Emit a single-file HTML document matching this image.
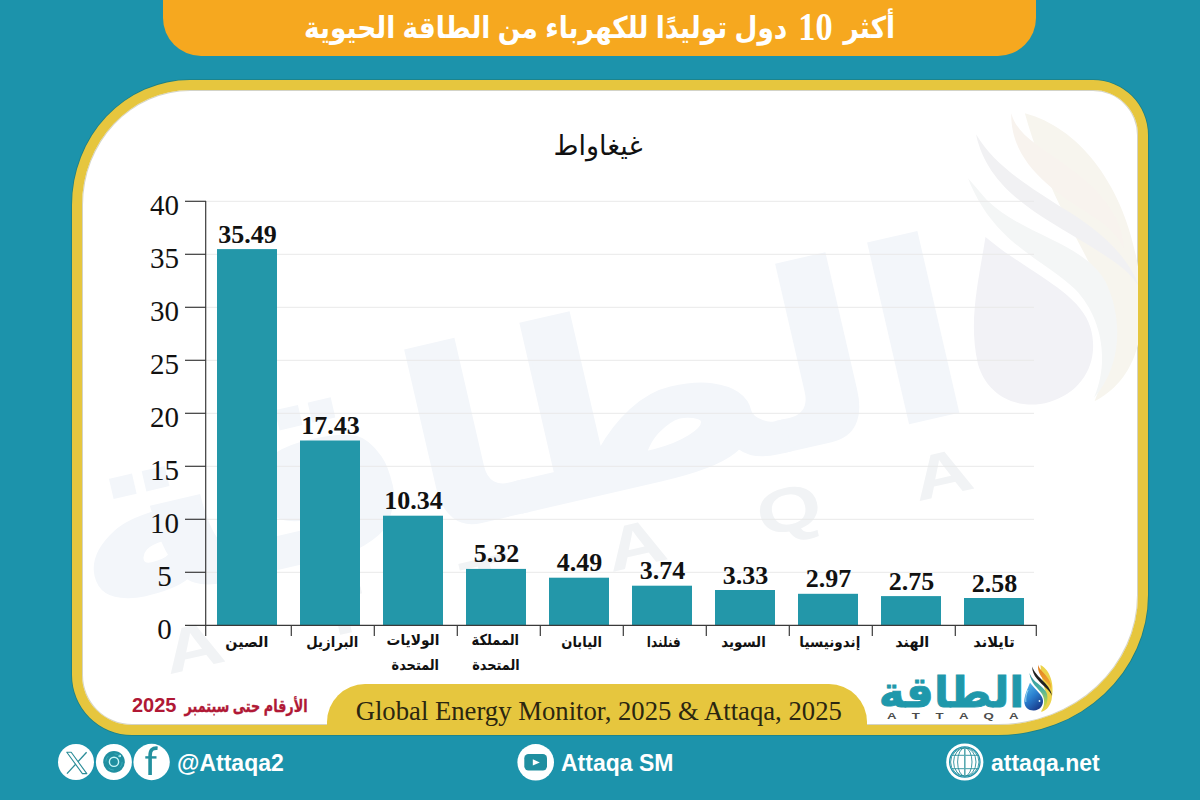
<!DOCTYPE html>
<html lang="ar">
<head>
<meta charset="utf-8">
<style>
html,body{margin:0;padding:0;}
body{width:1200px;height:800px;overflow:hidden;background:#1c93ab;position:relative;font-family:"Liberation Sans","DejaVu Sans",sans-serif;}
.abs{position:absolute;}
#title{left:163px;top:0;width:873px;height:56px;background:#f6a81f;border-radius:0 0 38px 38px;}
#title span{position:absolute;left:0;width:873px;top:2px;text-align:center;color:#fff;font:bold 30px "Liberation Sans","DejaVu Sans",sans-serif;direction:rtl;white-space:nowrap;transform:scaleX(0.88);}
#title b{font-family:"Liberation Serif",serif;font-size:39px;position:relative;top:2px;padding:0 4px;}
#frame{left:71.5px;top:79.5px;width:1056.5px;height:635.5px;border:10px solid #e6c63e;background:#fff;border-radius:118px 55px 150px 60px / 125px 55px 140px 60px;overflow:hidden;box-shadow:inset 0 0 0 1px rgba(110,110,70,0.3), 0 0 0 0.8px rgba(30,115,105,0.6);}
#wm{left:-81.5px;top:-89.5px;}
#src{left:327px;top:684px;width:540px;height:45px;background:#e6c63e;border-radius:38px 38px 0 0;}
#src span{position:absolute;left:3.5px;right:0;top:12.3px;text-align:center;font:26.7px "Liberation Serif",serif;color:#2b2610;white-space:nowrap;}
#note{left:108px;top:692px;width:200px;height:26px;color:#b01835;direction:rtl;white-space:nowrap;}
#note .ar{position:absolute;right:0;top:4px;-webkit-text-stroke:0.35px #b01835;font:bold 17px "Liberation Sans","DejaVu Sans",sans-serif;transform:scaleX(0.752);transform-origin:100% 50%;}
#note .num{position:absolute;left:24px;top:1.5px;font:bold 20px "Liberation Sans",sans-serif;}
.ftxt{color:#fff;font:bold 23px "Liberation Sans","DejaVu Sans",sans-serif;white-space:nowrap;}
</style>
</head>
<body>
<div id="title" class="abs"><span>أكثر <b>10</b> دول توليدًا للكهرباء من الطاقة الحيوية</span></div>
<div id="frame" class="abs">
  <svg id="wm" class="abs" width="1200" height="800" viewBox="0 0 1200 800">
    <g transform="translate(943,473) rotate(-13) scale(6.3) translate(-1013.9,-715.5)">
    <g transform="translate(-2.3,-0.5) translate(0,707) scale(1,0.9) translate(0,-707) translate(1021,674) scale(1.093,1.065) translate(-1018,-669)">
      <text x="1021" y="700" direction="rtl" font-family="DejaVu Sans, sans-serif" font-weight="bold" font-size="40" fill="#f3f6fa" stroke="#f3f6fa" stroke-width="0.5">الطاقة</text>
    </g>
    <text transform="scale(1.35,1)" y="719" font-family="Liberation Sans, sans-serif" font-weight="bold" font-size="9.8" fill="#f1f3f5" x="657 675.4 693 710.4 728.6 747.4">ATTAQA</text>
    <g transform="translate(-1.1,-2.2)">
    <path d="M1040.5,665 C1050,670 1055,684 1051.5,700 C1049.5,708 1045,711 1041,712 C1046,705 1047,697 1045,690 C1043.5,684 1041,676 1040.5,665 Z" fill="#f7f5ee"/>
    <path d="M1029.4,673 C1031,684 1038,688 1042,694 C1045,699 1045,706 1041,711.5 C1046,708 1048.5,701 1047,694 C1045,687 1036,684 1031.5,677 Z" fill="#f4f6f6"/>
    <path d="M1032.2,666.5 C1032,676 1040,682 1046,688 C1049,691 1051,693 1052,696 C1051.5,691 1048,686 1044,682 C1038,676 1034,672 1032.2,666.5 Z" fill="#f1f1f3"/>
    <path d="M1038.4,664.5 C1036.5,672 1042,678 1047,683 C1049,685 1050.5,687 1051,689.5 C1052,684 1049,679 1045,674.5 C1041.5,670.5 1038.5,668 1038.4,664.5 Z" fill="#f8f3ee"/>
    <path d="M1030,682.7 C1027.5,689 1024.3,695 1024.3,702 C1024.5,707.3 1028.8,710.8 1034,710.5 C1039.5,710.2 1043.3,706 1043,700.5 C1042.6,694.5 1035.5,690 1030,682.7 Z" fill="#f2f2f6"/>
    </g>
    </g>
  </svg>
</div>

<svg class="abs" style="left:0;top:0" width="1200" height="800" viewBox="0 0 1200 800">
  <text x="598" y="155" text-anchor="middle" font-family="Liberation Sans, DejaVu Sans, sans-serif" font-size="27" fill="#111" direction="rtl">غيغاواط</text>
  <g stroke="#e9e9e9" stroke-width="1">
    <line x1="206" y1="572.3" x2="1034" y2="572.3"/>
    <line x1="206" y1="519.3" x2="1034" y2="519.3"/>
    <line x1="206" y1="466.3" x2="1034" y2="466.3"/>
    <line x1="206" y1="413.3" x2="1034" y2="413.3"/>
    <line x1="206" y1="360.3" x2="1034" y2="360.3"/>
    <line x1="206" y1="307.3" x2="1034" y2="307.3"/>
    <line x1="206" y1="254.3" x2="1034" y2="254.3"/>
    <line x1="206" y1="201.3" x2="1034" y2="201.3"/>
  </g>
  <g fill="#2397a9">
    <rect x="217" y="249.1" width="60" height="376.2"/>
    <rect x="300" y="440.5" width="60" height="184.8"/>
    <rect x="383" y="515.7" width="60" height="109.6"/>
    <rect x="466" y="568.9" width="60" height="56.4"/>
    <rect x="549" y="577.7" width="60" height="47.6"/>
    <rect x="632" y="585.7" width="60" height="39.6"/>
    <rect x="715" y="590.0" width="60" height="35.3"/>
    <rect x="798" y="593.8" width="60" height="31.5"/>
    <rect x="881" y="596.1" width="60" height="29.1"/>
    <rect x="964" y="598.0" width="60" height="27.3"/>
  </g>
  <g stroke="#3a3a3a" stroke-width="1.2">
    <line x1="205.7" y1="201" x2="205.7" y2="636"/>
    <line x1="185" y1="625.3" x2="1036.5" y2="625.3"/>
    <line x1="185" y1="572.3" x2="206" y2="572.3"/>
    <line x1="185" y1="519.3" x2="206" y2="519.3"/>
    <line x1="185" y1="466.3" x2="206" y2="466.3"/>
    <line x1="185" y1="413.3" x2="206" y2="413.3"/>
    <line x1="185" y1="360.3" x2="206" y2="360.3"/>
    <line x1="185" y1="307.3" x2="206" y2="307.3"/>
    <line x1="185" y1="254.3" x2="206" y2="254.3"/>
    <line x1="185" y1="201.3" x2="206" y2="201.3"/>
    <line x1="291.3" y1="625" x2="291.3" y2="636"/>
    <line x1="374.3" y1="625" x2="374.3" y2="636"/>
    <line x1="457.3" y1="625" x2="457.3" y2="636"/>
    <line x1="540.3" y1="625" x2="540.3" y2="636"/>
    <line x1="623.3" y1="625" x2="623.3" y2="636"/>
    <line x1="706.3" y1="625" x2="706.3" y2="636"/>
    <line x1="789.3" y1="625" x2="789.3" y2="636"/>
    <line x1="872.3" y1="625" x2="872.3" y2="636"/>
    <line x1="955.3" y1="625" x2="955.3" y2="636"/>
    <line x1="1036.3" y1="625" x2="1036.3" y2="636"/>
  </g>
  <g font-family="Liberation Serif, serif" font-size="29" fill="#111" text-anchor="middle">
    <text x="164.5" y="639.0">0</text>
    <text x="164.5" y="586.0">5</text>
    <text x="164.5" y="533.0">10</text>
    <text x="164.5" y="480.0">15</text>
    <text x="164.5" y="427.0">20</text>
    <text x="164.5" y="374.0">25</text>
    <text x="164.5" y="321.0">30</text>
    <text x="164.5" y="268.0">35</text>
    <text x="164.5" y="215.0">40</text>
  </g>
  <g font-family="Liberation Serif, serif" font-weight="bold" font-size="26" fill="#111" text-anchor="middle">
    <text x="247.5" y="242.6">35.49</text>
    <text x="330.5" y="434.0">17.43</text>
    <text x="413.5" y="509.2">10.34</text>
    <text x="496.5" y="562.4">5.32</text>
    <text x="579.5" y="571.2">4.49</text>
    <text x="662.5" y="579.2">3.74</text>
    <text x="745.5" y="583.5">3.33</text>
    <text x="828.5" y="587.3">2.97</text>
    <text x="911.5" y="589.6">2.75</text>
    <text x="994.5" y="591.5">2.58</text>
  </g>
  <g font-family="Liberation Sans, DejaVu Sans, sans-serif" font-weight="bold" font-size="15" fill="#111" text-anchor="middle" direction="rtl">
    <text x="246.8" y="647" textLength="43.0" lengthAdjust="spacingAndGlyphs">الصين</text>
    <text x="332.3" y="647" textLength="52.0" lengthAdjust="spacingAndGlyphs">البرازيل</text>
    <text x="413" y="645" textLength="52.8" lengthAdjust="spacingAndGlyphs">الولايات</text>
    <text x="415.3" y="669.5" textLength="47.5" lengthAdjust="spacingAndGlyphs">المتحدة</text>
    <text x="495.3" y="645" textLength="47.5" lengthAdjust="spacingAndGlyphs">المملكة</text>
    <text x="496" y="669.5" textLength="47.5" lengthAdjust="spacingAndGlyphs">المتحدة</text>
    <text x="581.6" y="647" textLength="40.7" lengthAdjust="spacingAndGlyphs">اليابان</text>
    <text x="663.8" y="647" textLength="34.0" lengthAdjust="spacingAndGlyphs">فنلندا</text>
    <text x="743.5" y="647" textLength="44.5" lengthAdjust="spacingAndGlyphs">السويد</text>
    <text x="829.8" y="647" textLength="61.0" lengthAdjust="spacingAndGlyphs">إندونيسيا</text>
    <text x="912.3" y="647" textLength="34.0" lengthAdjust="spacingAndGlyphs">الهند</text>
    <text x="994" y="647" textLength="41.5" lengthAdjust="spacingAndGlyphs">تايلاند</text>
  </g>
</svg>

<div id="src" class="abs"><span>Global Energy Monitor, 2025 &amp; Attaqa, 2025</span></div>
<div id="note" class="abs"><span class="ar">الأرقام حتى سبتمبر</span> <span class="num">2025</span></div>

<!-- logo -->
<svg class="abs" style="left:0;top:0" width="1200" height="800" viewBox="0 0 1200 800">
  <defs>
    <linearGradient id="gdrop" x1="0" y1="0" x2="0.6" y2="1">
      <stop offset="0" stop-color="#5cc3ef"/>
      <stop offset="0.55" stop-color="#2a7fcf"/>
      <stop offset="1" stop-color="#1a3f8f"/>
    </linearGradient>
    <linearGradient id="ggreen" x1="0" y1="0" x2="0" y2="1">
      <stop offset="0" stop-color="#2a93a3"/>
      <stop offset="0.45" stop-color="#4fb3a0"/>
      <stop offset="0.75" stop-color="#b5d24a"/>
      <stop offset="1" stop-color="#e8d84c"/>
    </linearGradient>
    <linearGradient id="gorange" x1="0" y1="0" x2="0" y2="1">
      <stop offset="0" stop-color="#e07a1f"/>
      <stop offset="1" stop-color="#f2b233"/>
    </linearGradient>
  </defs>
    <g transform="translate(1021,674) scale(1.093,1.065) translate(-1018,-669)">
      <text x="1021" y="700" direction="rtl" font-family="DejaVu Sans, sans-serif" font-weight="bold" font-size="40" fill="#1f98ab" stroke="#1f98ab" stroke-width="0.8">الطاقة</text>
    </g>
    <text transform="scale(1.35,1)" y="719" font-family="Liberation Sans, sans-serif" font-weight="bold" font-size="9.8" fill="#4d4d4d" x="657 675.4 693 710.4 728.6 747.4">ATTAQA</text>
    <path d="M1040.5,665 C1050,670 1055,684 1051.5,700 C1049.5,708 1045,711 1041,712 C1046,705 1047,697 1045,690 C1043.5,684 1041,676 1040.5,665 Z" fill="#ecd34a"/>
    <path d="M1029.4,673 C1031,684 1038,688 1042,694 C1045,699 1045,706 1041,711.5 C1046,708 1048.5,701 1047,694 C1045,687 1036,684 1031.5,677 Z" fill="url(#ggreen)"/>
    <path d="M1032.2,666.5 C1032,676 1040,682 1046,688 C1049,691 1051,693 1052,696 C1051.5,691 1048,686 1044,682 C1038,676 1034,672 1032.2,666.5 Z" fill="#222"/>
    <path d="M1038.4,664.5 C1036.5,672 1042,678 1047,683 C1049,685 1050.5,687 1051,689.5 C1052,684 1049,679 1045,674.5 C1041.5,670.5 1038.5,668 1038.4,664.5 Z" fill="url(#gorange)"/>
    <path d="M1030,682.7 C1027.5,689 1024.3,695 1024.3,702 C1024.5,707.3 1028.8,710.8 1034,710.5 C1039.5,710.2 1043.3,706 1043,700.5 C1042.6,694.5 1035.5,690 1030,682.7 Z" fill="url(#gdrop)"/>
    <path d="M1028,690 C1026.2,694 1025.4,698 1025.8,702" fill="none" stroke="#a9e3f7" stroke-width="0.8"/>
    <circle cx="1039.5" cy="701" r="0.9" fill="#dff4ff"/>
</svg>

<!-- footer -->
<svg class="abs" style="left:0;top:0" width="1200" height="800" viewBox="0 0 1200 800">
  <g fill="#fff">
    <circle cx="76" cy="762" r="18"/>
    <circle cx="113.9" cy="762" r="18"/>
    <circle cx="151.6" cy="762" r="18.2"/>
    <circle cx="535.7" cy="762.3" r="18.3"/>
  </g>
  <line x1="86.6" y1="752.3" x2="67" y2="773.6" stroke="#2a8c98" stroke-width="1.3"/>
  <path d="M66.8,752.3 L71.2,752.3 L86.8,773.6 L82.4,773.6 Z" fill="#fff" stroke="#2a8c98" stroke-width="1.1" stroke-linejoin="round"/>
  <circle cx="114" cy="761.9" r="10.8" fill="#1f8fa0"/>
  <circle cx="114" cy="761.8" r="4.6" fill="none" stroke="#c8f6f8" stroke-width="1.4"/>
  <circle cx="119.7" cy="756" r="1.3" fill="#c8f6f8"/>
  <circle cx="114" cy="761.9" r="8.2" fill="none" stroke="#3eb0bf" stroke-width="0.8" stroke-dasharray="6 7"/>
  <path d="M150.1,775 V755.5 C150.1,749.8 152.6,747.7 157.6,748.2" fill="none" stroke="#23909e" stroke-width="3.6"/>
  <rect x="145.3" y="756.2" width="11.2" height="2.4" fill="#23909e"/>
  <rect x="524.3" y="754" width="22.7" height="16.5" rx="4.2" fill="#1f8fa0"/>
  <path d="M532.8,759.2 L532.8,765.6 L539.8,762.4 Z" fill="#fff"/>
  <circle cx="964.8" cy="762" r="17.2" fill="none" stroke="#fff" stroke-width="2.8"/>
  <circle cx="964.8" cy="762" r="14.6" fill="#fff"/>
  <g fill="none" stroke="#2a8f9c" stroke-width="0.9">
    <circle cx="964.8" cy="762" r="14.2"/>
    <ellipse cx="964.8" cy="762" rx="11.2" ry="14.2"/>
    <ellipse cx="964.8" cy="762" rx="7.2" ry="14.2"/>
    <line x1="951.5" y1="755.3" x2="978.1" y2="755.3"/>
    <line x1="951.5" y1="768.7" x2="978.1" y2="768.7"/>
  </g>
  <line x1="964.8" y1="747.8" x2="964.8" y2="776.2" stroke="#5aa9b0" stroke-width="1.6"/>
</svg>
<div class="abs ftxt" style="left:177px;top:750px;">@Attaqa2</div>
<div class="abs ftxt" style="left:561px;top:750px;">Attaqa SM</div>
<div class="abs ftxt" style="left:991px;top:750px;">attaqa.net</div>
</body>
</html>
